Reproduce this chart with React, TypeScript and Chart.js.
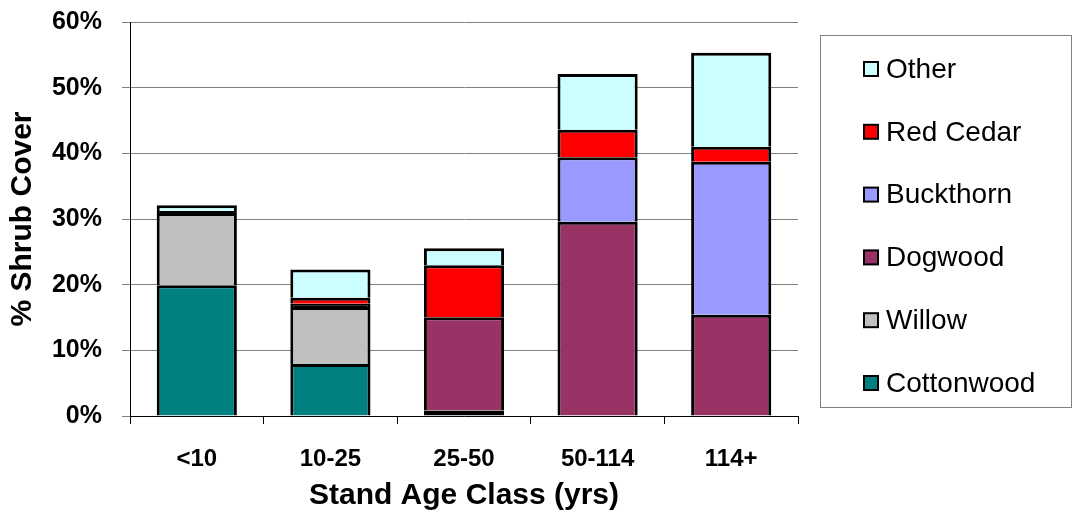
import React, { useEffect, useRef } from "react";
import { Chart, registerables } from "chart.js";

Chart.register(...registerables);

// ---- Data ----
const categories = ["<10", "10-25", "25-50", "50-114", "114+"];
const seriesNames = ["Cottonwood", "Willow", "Dogwood", "Buckthorn", "Red Cedar", "Other"];
const cottonwood = [19.9, 7.9, 0.85, 0, 0];
const willow = [11.0, 8.7, 0, 0, 0];
const dogwood = [0, 0.5, 14.2, 29.6, 15.4];
const buckthorn = [0, 0, 0, 9.8, 23.3];
const redCedar = [0.3, 0.9, 7.9, 4.2, 2.3];
const other = [0.9, 4.3, 2.6, 8.5, 14.3];
const yMax = 60;
const yStep = 10;
const xTitle = "Stand Age Class (yrs)";
const yTitle = "% Shrub Cover";

const seriesValues = [cottonwood, willow, dogwood, buckthorn, redCedar, other];
const seriesColors = ["#008080", "#C0C0C0", "#993366", "#9999FF", "#FF0000", "#CCFFFF"];

const FONT = "'Liberation Sans', Arial, Helvetica, sans-serif";

const legendPlugin = {
  id: "boxLegend",
  afterDraw(chart: any) {
    const ctx = chart.ctx as CanvasRenderingContext2D;
    ctx.save();
    ctx.strokeStyle = "#808080";
    ctx.lineWidth = 1;
    ctx.strokeRect(820.5, 35.5, 251, 372);
    const n = chart.data.datasets.length;
    const startY = 69;
    const step = 62.8;
    ctx.font = `28px ${FONT}`;
    ctx.textBaseline = "middle";
    ctx.textAlign = "left";
    for (let i = 0; i < n; i++) {
      const ds = chart.data.datasets[n - 1 - i];
      const cy = startY + i * step;
      ctx.fillStyle = ds.legendColor;
      ctx.fillRect(864, cy - 7, 14, 14);
      ctx.strokeStyle = "#000";
      ctx.lineWidth = 2;
      ctx.strokeRect(864, cy - 7, 14, 14);
      ctx.fillStyle = "#000";
      ctx.fillText(ds.label, 886, cy + 1);
    }
    ctx.restore();
  },
};

export default function App() {
  const ref = useRef<HTMLCanvasElement | null>(null);

  useEffect(() => {
    if (!ref.current) return;
    const datasets = seriesNames.map((name, i) => ({
      label: name,
      data: seriesValues[i],
      legendColor: seriesColors[i],
      // very thin segments are swallowed by their outlines (as in the original)
      backgroundColor: (c: any) => {
        const v = c.raw as number;
        return v > 0 && v < 0.88 ? "#000000" : seriesColors[i];
      },
      borderColor: "#000000",
      borderWidth: { top: 3, left: 3, right: 3, bottom: 0 },
      borderSkipped: false,
      categoryPercentage: 1,
      barPercentage: 0.6,
    }));

    const chart = new Chart(ref.current, {
      type: "bar",
      data: { labels: categories, datasets: datasets as any },
      plugins: [legendPlugin],
      options: {
        animation: false,
        responsive: false,
        maintainAspectRatio: false,
        layout: { padding: { top: 22, right: 275, bottom: 0, left: 0 } },
        plugins: {
          legend: { display: false },
          tooltip: { enabled: false },
        },
        scales: {
          x: {
            stacked: true,
            border: { display: true, color: "#000", width: 1 },
            grid: {
              display: true,
              drawOnChartArea: false,
              drawTicks: true,
              tickLength: 8,
              offset: true,
              color: "#000",
            },
            ticks: {
              color: "#000",
              padding: 21,
              font: { family: FONT, size: 24, weight: "bold" },
            },
            title: {
              display: true,
              text: xTitle,
              color: "#000",
              font: { family: FONT, size: 30, weight: "bold" },
              padding: { top: 0, bottom: 5 },
            },
            afterFit(scale: any) {
              scale.height = 519 - 416;
              scale.paddingLeft = 0;
              scale.paddingRight = 0;
            },
          },
          y: {
            stacked: true,
            min: 0,
            max: yMax,
            border: { display: true, color: "#000", width: 1 },
            grid: {
              color: "#808080",
              lineWidth: 1,
              tickLength: 8,
              drawTicks: true,
            },
            ticks: {
              stepSize: yStep,
              color: "#000",
              padding: 20,
              font: { family: FONT, size: 25, weight: "bold" },
              callback: (v: any) => `${v}%`,
            },
            title: {
              display: true,
              text: yTitle,
              color: "#000",
              font: { family: FONT, size: 30, weight: "bold" },
              padding: { top: 5, bottom: 0 },
            },
            afterFit(scale: any) {
              scale.width = 130;
              scale.paddingTop = 0;
              scale.paddingBottom = 0;
            },
          },
        },
      },
    });
    return () => chart.destroy();
  }, []);

  return (
    <div style={{ position: "fixed", left: 0, top: 0, width: 1073, height: 519, background: "#fff" }}>
      <canvas ref={ref} width={1073} height={519} style={{ display: "block" }} />
    </div>
  );
}
